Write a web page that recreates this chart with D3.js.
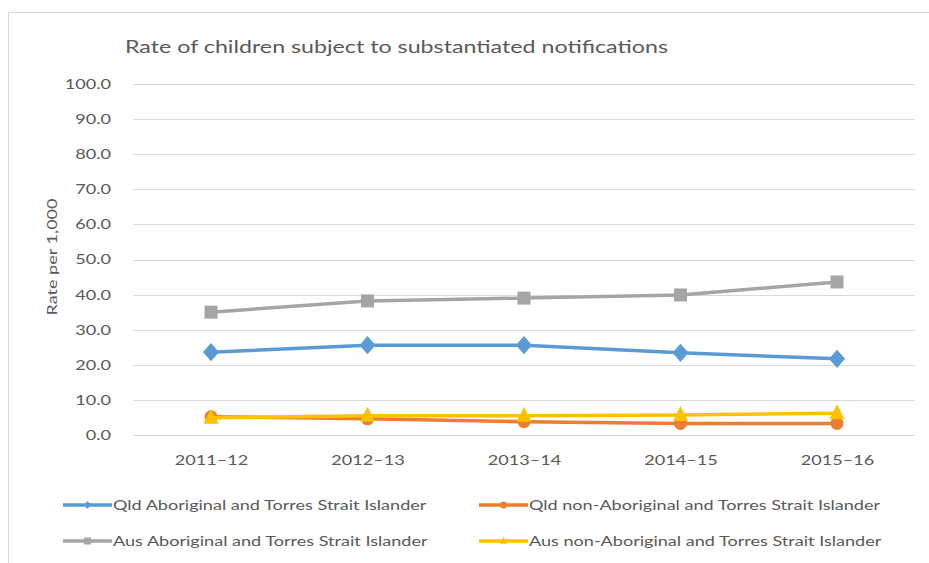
<!DOCTYPE html>
<html>
<head>
<meta charset="utf-8">
<script src="https://cdn.jsdelivr.net/npm/d3@7"></script>
<style>
  html, body { margin: 0; padding: 0; background: #fff; }
  svg { display: block; }
  text { font-family: Lato, "Open Sans", sans-serif; fill: #595959; }
</style>
</head>
<body>
<svg id="chart" width="929" height="563"></svg>
<script>
// Financial years on the category axis
const years = ["2011–12", "2012–13", "2013–14", "2014–15", "2015–16"];

// Rate per 1,000 children for each group
const qldIndigenous = [23.6, 25.6, 25.6, 23.4, 21.7];
const qldNonIndigenous = [5.2, 4.6, 3.8, 3.3, 3.3];
const ausIndigenous = [35.0, 38.2, 39.0, 39.9, 43.6];
const ausNonIndigenous = [4.9, 5.5, 5.5, 5.7, 6.2];

const yTicks = [0, 10, 20, 30, 40, 50, 60, 70, 80, 90, 100];

const series = [
  { name: "Qld Aboriginal and Torres Strait Islander", values: qldIndigenous, color: "#5B9BD5", marker: "diamond" },
  { name: "Qld non-Aboriginal and Torres Strait Islander", values: qldNonIndigenous, color: "#ED7D31", marker: "circle" },
  { name: "Aus Aboriginal and Torres Strait Islander", values: ausIndigenous, color: "#A5A5A5", marker: "square" },
  { name: "Aus non-Aboriginal and Torres Strait Islander", values: ausNonIndigenous, color: "#FFC000", marker: "triangle" }
];
const drawOrder = [2, 0, 1, 3];

// widen text horizontally to the wide sans look of the layout
const STRETCH = 1.29;
function widen(sel) {
  sel.each(function () {
    const w = this.getComputedTextLength();
    d3.select(this).attr("textLength", w * STRETCH).attr("lengthAdjust", "spacingAndGlyphs");
  });
  return sel;
}

const svg = d3.select("#chart");

// chart area frame
svg.append("rect")
  .attr("x", 8.5).attr("y", 12.5)
  .attr("width", 940).attr("height", 560)
  .attr("fill", "#fff").attr("stroke", "#d9d9d9");

const x = d3.scalePoint().domain(years).range([211, 837]);
const y = d3.scaleLinear().domain([0, 100]).range([435, 84]);

// horizontal gridlines
svg.append("g")
  .selectAll("line").data(yTicks.slice(1)).join("line")
  .attr("x1", 133).attr("x2", 915)
  .attr("y1", d => Math.round(y(d)) + 0.5).attr("y2", d => Math.round(y(d)) + 0.5)
  .attr("stroke", "#d9d9d9").attr("stroke-width", 1);

// y axis labels
const yAxis = d3.axisLeft(y).tickValues(yTicks).tickFormat(d3.format(".1f")).tickSize(0).tickPadding(0);
const yg = svg.append("g").attr("transform", "translate(111,0)").call(yAxis);
yg.select(".domain").remove();
yg.selectAll("text").attr("font-size", 14).attr("fill", "#595959").style("font-family", "Lato, sans-serif");
widen(yg.selectAll("text"));

// x axis
const xAxis = d3.axisBottom(x).tickSize(0).tickPadding(20);
const xg = svg.append("g").attr("transform", "translate(0,435)").call(xAxis);
xg.select(".domain").attr("d", "M133,0.5H915").attr("stroke", "#d9d9d9");
xg.selectAll("text").attr("font-size", 14).attr("fill", "#595959").style("font-family", "Lato, sans-serif");
widen(xg.selectAll("text"));

// axis title
widen(svg.append("text")
  .attr("transform", "translate(57,257) rotate(-90)")
  .attr("text-anchor", "middle")
  .attr("font-size", 14)
  .text("Rate per 1,000"));

// chart title
widen(svg.append("text")
  .attr("x", 125).attr("y", 53)
  .attr("font-size", 18)
  .text("Rate of children subject to substantiated notifications"));

const line = d3.line().x((d, i) => x(years[i])).y(d => y(d));

function markerPath(type, r) {
  switch (type) {
    case "diamond":
      return `M0,${-r * 1.15}L${r},0L0,${r * 1.15}L${-r},0Z`;
    case "circle":
      return d3.symbol().type(d3.symbolCircle).size(Math.PI * r * r)();
    case "square":
      return `M${-r},${-r}H${r}V${r}H${-r}Z`;
    case "triangle":
      return `M0,${-r * 1.2}L${r},${r * 0.8}L${-r},${r * 0.8}Z`;
  }
}

const markerR = { diamond: 8, circle: 6.5, square: 6.5, triangle: 7.5 };

drawOrder.forEach(si => {
  const s = series[si];
  const g = svg.append("g");
  g.append("path")
    .attr("d", line(s.values))
    .attr("fill", "none")
    .attr("stroke", s.color)
    .attr("stroke-width", 3.5)
    .attr("stroke-linejoin", "round");
  g.selectAll("path.m").data(s.values).join("path")
    .attr("class", "m")
    .attr("transform", (d, i) => `translate(${x(years[i])},${y(d)})`)
    .attr("d", markerPath(s.marker, markerR[s.marker]))
    .attr("fill", s.color);
});

// legend
const legendPos = [
  { x: 63, y: 505 }, { x: 479, y: 505 },
  { x: 63, y: 541 }, { x: 479, y: 541 }
];
series.forEach((s, i) => {
  const p = legendPos[i];
  const g = svg.append("g").attr("transform", `translate(${p.x},${p.y})`);
  g.append("line").attr("x1", 0).attr("x2", 49).attr("y1", 0).attr("y2", 0)
    .attr("stroke", s.color).attr("stroke-width", 3.5);
  g.append("path").attr("transform", "translate(24.5,0)")
    .attr("d", markerPath(s.marker, 3.5)).attr("fill", s.color);
  widen(g.append("text").attr("x", 50).attr("y", 5).attr("font-size", 14).text(s.name));
});
</script>
</body>
</html>
